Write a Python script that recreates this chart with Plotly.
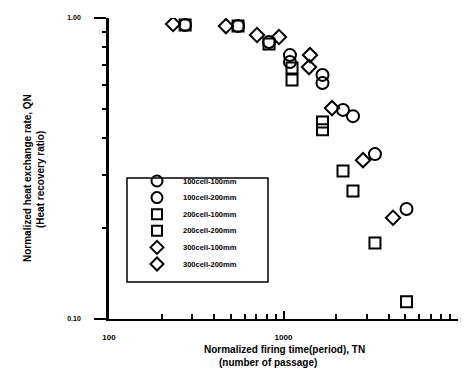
import plotly.graph_objects as go

series_names = ["100cell-100mm", "100cell-200mm", "200cell-100mm",
                "200cell-200mm", "300cell-100mm", "300cell-200mm"]
series_symbols = ["circle-open", "circle-open", "square-open",
                  "square-open", "diamond-open", "diamond-open"]

x_100_100 = [273, 826, 1089, 1673, 2193, 3343]
y_100_100 = [0.948, 0.832, 0.753, 0.647, 0.495, 0.353]
x_100_200 = [549, 1089, 1673, 2501, 5070]
y_100_200 = [0.940, 0.714, 0.608, 0.472, 0.232]
x_200_100 = [273, 826, 1119, 1673, 2501, 3343]
y_200_100 = [0.948, 0.820, 0.682, 0.451, 0.266, 0.179]
x_200_200 = [549, 1119, 1673, 2193, 5070]
y_200_200 = [0.940, 0.622, 0.425, 0.310, 0.114]
x_300_100 = [233, 705, 1400, 1897, 2855]
y_300_100 = [0.955, 0.878, 0.687, 0.502, 0.337]
x_300_200 = [468, 942, 1419, 4242]
y_300_200 = [0.940, 0.865, 0.753, 0.217]

xs = [x_100_100, x_100_200, x_200_100, x_200_200, x_300_100, x_300_200]
ys = [y_100_100, y_100_200, y_200_100, y_200_200, y_300_100, y_300_200]

x_tickvals = [100, 1000, 10000]
x_ticktext = ["100", "1000", "10000"]
y_tickvals = [0.1, 1.0]
y_ticktext = ["0.10", "1.00"]

FONT = "Liberation Sans"
L, R, T, B, W, H = 109, 11, 18, 51, 469, 370
PW, PH = W - L - R, H - T - B


def px(xp):
    return (xp - L) / PW


def py(yp):
    return (H - B - yp) / PH


fig = go.Figure()
sizes = {"circle-open": 12, "square-open": 11, "diamond-open": 11}
for name, sym, x, y in zip(series_names, series_symbols, xs, ys):
    fig.add_trace(go.Scatter(
        x=x, y=y, mode="markers", name=name, showlegend=False,
        marker=dict(symbol=sym, size=sizes[sym], color="black",
                    line=dict(color="black", width=2)),
    ))

# manual legend (keys on an overlay axis spanning the plot area)
legend_rows = [181, 197.6, 214.2, 230.8, 247.4, 264]
for i, (name, sym) in enumerate(zip(series_names, series_symbols)):
    fig.add_trace(go.Scatter(
        x=[px(157)], y=[py(legend_rows[i])], xaxis="x2", yaxis="y2",
        mode="markers", showlegend=False, hoverinfo="skip",
        marker=dict(symbol=sym, size=sizes[sym] - 1, color="black",
                    line=dict(color="black", width=2)),
    ))
    fig.add_annotation(text="<b>%s</b>" % name, x=px(181), y=py(legend_rows[i]),
                       xref="paper", yref="paper", xanchor="left", yanchor="middle",
                       showarrow=False, font=dict(family=FONT, size=7.5, color="black"))

fig.update_layout(
    width=W, height=H,
    margin=dict(l=L, r=R, t=T, b=B),
    paper_bgcolor="white", plot_bgcolor="white",
    font=dict(family=FONT, color="black"),
    showlegend=False,
    xaxis=dict(type="log", range=[2, 4], tickmode="array",
               tickvals=x_tickvals, ticktext=["<b>%s</b>" % t for t in x_ticktext],
               ticks="inside", ticklen=8, tickwidth=2, tickcolor="black",
               ticklabelstandoff=9,
               showline=True, linecolor="black", linewidth=2,
               showgrid=False, zeroline=False,
               tickfont=dict(family=FONT, size=8, color="black"),
               minor=dict(ticks="inside", ticklen=5, tickwidth=1.5, tickcolor="black",
                          tickmode="array",
                          tickvals=[200, 300, 400, 500, 600, 700, 800, 900,
                                    2000, 3000, 4000, 5000, 6000, 7000, 8000, 9000],
                          showgrid=False)),
    yaxis=dict(type="log", range=[-1, 0], tickmode="array",
               tickvals=y_tickvals, ticktext=["<b>%s</b>" % t for t in y_ticktext],
               ticks="outside", ticklen=12, tickwidth=2, tickcolor="black",
               ticklabelstandoff=12,
               showline=True, linecolor="black", linewidth=2.5,
               showgrid=False, zeroline=False,
               tickfont=dict(family=FONT, size=7, color="black"),
               minor=dict(ticks="outside", ticklen=4, tickwidth=1.5, tickcolor="black",
                          tickmode="array",
                          tickvals=[0.2, 0.3, 0.4, 0.5, 0.6, 0.7, 0.8, 0.9],
                          showgrid=False)),
    xaxis2=dict(overlaying="x", range=[0, 1], visible=False, fixedrange=True),
    yaxis2=dict(overlaying="y", range=[0, 1], visible=False, fixedrange=True),
)

# legend frame
fig.add_shape(type="rect", xref="paper", yref="paper",
              x0=px(127), x1=px(268), y0=py(282), y1=py(178),
              line=dict(color="black", width=1.5), fillcolor="rgba(0,0,0,0)")

ann = [
    ("<b>Normalized firing time(period), TN</b>", px(284), py(349), 0),
    ("<b>(number of passage)</b>", px(268), py(362), 0),
    ("<b>Normalized heat exchange rate, QN</b>", px(28), py(178), -90),
    ("<b>(Heat recovery ratio)</b>", px(40), py(180), -90),
]
for text, ax, ay, rot in ann:
    fig.add_annotation(text=text, x=ax, y=ay, xref="paper", yref="paper",
                       xanchor="center", yanchor="middle", showarrow=False,
                       textangle=rot, font=dict(family=FONT, size=10, color="black"))

fig.write_html("out.html")
